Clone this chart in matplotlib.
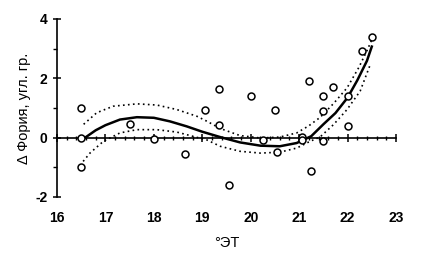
import matplotlib
matplotlib.use('Agg')
import matplotlib.pyplot as plt
from matplotlib.ticker import MultipleLocator

plt.rcParams['font.family'] = ['Liberation Sans', 'DejaVu Sans']
plt.rcParams['axes.unicode_minus'] = False

# измеренные точки
temp = [16.5, 16.5, 16.5, 17.5, 18.0, 18.65, 19.05, 19.35, 19.35, 19.55,
        20.0, 20.25, 20.5, 20.55, 21.05, 21.05, 21.2, 21.25, 21.5, 21.5,
        21.5, 21.7, 22.0, 22.0, 22.3, 22.5]
phoria = [1.0, 0.0, -1.0, 0.47, -0.05, -0.55, 0.94, 1.64, 0.43, -1.59,
          1.42, -0.08, 0.92, -0.49, 0.03, -0.08, 1.91, -1.11, 1.39, 0.89,
          -0.11, 1.71, 1.39, 0.38, 2.93, 3.41]

# линия регрессии
fit_x = [16.58, 16.8, 17.0, 17.3, 17.65, 18.0, 18.33, 18.68, 19.0, 19.37,
         19.78, 20.2, 20.6, 20.95, 21.25, 21.5, 21.75, 22.0, 22.2, 22.4, 22.5]
fit_y = [0.0, 0.25, 0.42, 0.61, 0.69, 0.67, 0.55, 0.38, 0.2, 0.02,
         -0.16, -0.27, -0.29, -0.18, 0.05, 0.45, 0.83, 1.35, 1.93, 2.59, 3.07]

# доверительный интервал
upper_x = [16.55, 16.82, 17.16, 17.65, 18.06, 18.47, 18.89, 19.1, 19.37, 19.78,
           20.2, 20.6, 20.95, 21.2, 21.43, 21.71, 21.99, 22.23, 22.4, 22.5]
upper_y = [0.45, 0.84, 1.06, 1.14, 1.10, 0.95, 0.72, 0.55, 0.31, 0.07,
           -0.01, 0.02, 0.16, 0.40, 0.68, 1.15, 1.68, 2.36, 2.93, 3.3]
lower_x = [16.54, 16.68, 16.96, 17.3, 17.65, 18.06, 18.47, 18.89, 19.1, 19.37,
           19.78, 20.2, 20.6, 20.95, 21.23, 21.43, 21.71, 21.99, 22.26, 22.47]
lower_y = [-0.80, -0.52, -0.12, 0.16, 0.27, 0.27, 0.19, 0.01, -0.08, -0.29,
           -0.46, -0.52, -0.49, -0.35, -0.12, 0.02, 0.44, 0.95, 1.57, 2.47]

fig = plt.figure(figsize=(4.25, 2.57), dpi=100)
ax = fig.add_axes([57 / 425, 60 / 257, 339 / 425, 178 / 257])

ax.plot(upper_x, upper_y, color='black', lw=1.2, ls=(0, (1, 2)))
ax.plot(lower_x, lower_y, color='black', lw=1.2, ls=(0, (1, 2)))
ax.plot(fit_x, fit_y, color='black', lw=1.8)
ax.plot(temp, phoria, 'o', mfc='white', mec='black', ms=5, mew=1.1,
        clip_on=False, zorder=5)

ax.set_xlim(16, 23)
ax.set_ylim(-2, 4)

ax.spines['top'].set_visible(False)
ax.spines['right'].set_visible(False)
ax.spines['bottom'].set_position(('data', 0))
ax.spines['left'].set_bounds(-2, 4)
for s in ['left', 'bottom']:
    ax.spines[s].set_linewidth(1.2)

ax.xaxis.set_major_locator(MultipleLocator(1))
ax.xaxis.set_minor_locator(MultipleLocator(0.2))
ax.yaxis.set_major_locator(MultipleLocator(2))
ax.yaxis.set_minor_locator(MultipleLocator(1))

ax.tick_params(axis='x', which='major', direction='inout', length=6, width=1.1,
               pad=50, labelsize=10)
ax.tick_params(axis='x', which='minor', direction='inout', length=3.5, width=1.0)
ax.tick_params(axis='y', which='major', direction='inout', length=6, width=1.1,
               pad=4, labelsize=10)
ax.tick_params(axis='y', which='minor', direction='out', length=3, width=1.0)
for lbl in ax.get_xticklabels() + ax.get_yticklabels():
    lbl.set_fontweight('bold')

ax.set_xlabel('°ЭТ', fontsize=10.5, labelpad=8)
ax.set_ylabel('Δ Фория, угл. гр.', fontsize=10.5, labelpad=3)

fig.savefig('out.png', dpi=100)
